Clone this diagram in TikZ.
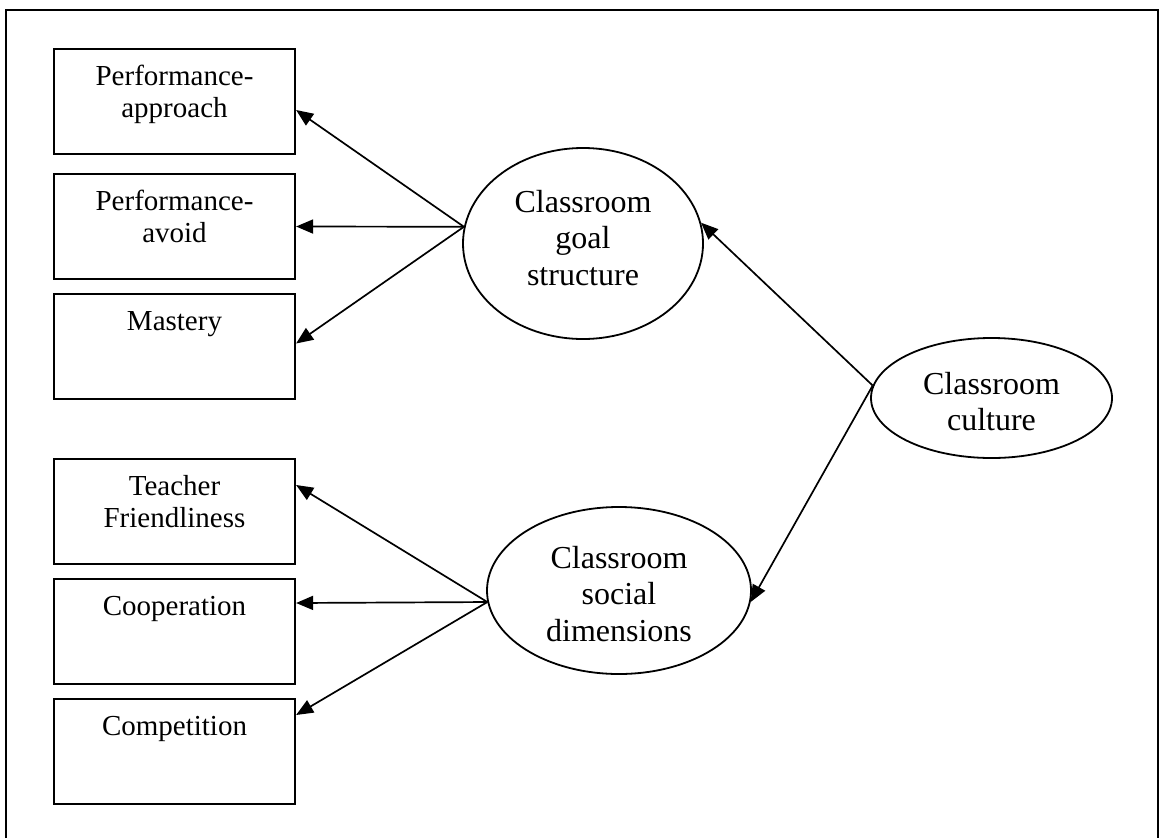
\documentclass[tikz,border=0pt]{standalone}
\usepackage{fontspec}
\setmainfont{Liberation Serif}
\usetikzlibrary{arrows.meta,shapes.geometric,calc}
\begin{document}
\begin{tikzpicture}[x=1pt,y=-1pt,
  frame/.style={line width=2pt},
  itembox/.style={draw, line width=2.2pt, rectangle, minimum width=241pt,
    minimum height=105pt, inner sep=0pt},
  itemtxt/.style={inner sep=0pt, anchor=base, font=\fontsize{29}{32}\selectfont},
  factor/.style={draw, line width=1.8pt, ellipse, inner sep=0pt},
  factortxt/.style={inner sep=0pt, anchor=base, font=\fontsize{32}{36.5}\selectfont},
  link/.style={line width=1.7pt, -{Triangle[length=17pt,width=14pt]}}
]
\useasboundingbox (0,0) rectangle (1161,838);
\fill[white] (0,0) rectangle (1161,838);

% outer frame (open at the bottom edge)
\draw[frame] (6,838) -- (6,10) -- (1158,10) -- (1158,838);

% indicator boxes
\node[itembox] (b1) at (174.5,101.5) {};
\node[itembox] (b2) at (174.5,226.5) {};
\node[itembox] (b3) at (174.5,346.5) {};
\node[itembox] (b4) at (174.5,511.5) {};
\node[itembox] (b5) at (174.5,631.5) {};
\node[itembox] (b6) at (174.5,751.5) {};

\node[itemtxt] (t1) at ($(b1.north)+(0,38)$) {\parbox[t]{230pt}{\centering Performance-\\approach}};
\node[itemtxt] (t2) at ($(b2.north)+(0,38)$) {\parbox[t]{230pt}{\centering Performance-\\avoid}};
\node[itemtxt] (t3) at ($(b3.north)+(0,38)$) {\parbox[t]{230pt}{\centering Mastery}};
\node[itemtxt] (t4) at ($(b4.north)+(0,38)$) {\parbox[t]{230pt}{\centering Teacher\\Friendliness}};
\node[itemtxt] (t5) at ($(b5.north)+(0,38)$) {\parbox[t]{230pt}{\centering Cooperation}};
\node[itemtxt] (t6) at ($(b6.north)+(0,38)$) {\parbox[t]{230pt}{\centering Competition}};

% latent factors
\node[factor, minimum width=240pt, minimum height=191pt] (g) at (583,243.5) {};
\node[factor, minimum width=264pt, minimum height=167pt] (s) at (619,590.5) {};
\node[factor, minimum width=241pt, minimum height=120pt] (c) at (991.5,398) {};

\node[factortxt] (gt) at ($(g.center)+(0,-31.5)$) {\parbox[t]{220pt}{\centering Classroom\\goal\\structure}};
\node[factortxt] (st) at ($(s.center)+(0,-22.5)$) {\parbox[t]{240pt}{\centering Classroom\\social\\dimensions}};
\node[factortxt] (ct) at ($(c.center)+(0,-4)$) {\parbox[t]{220pt}{\centering Classroom\\culture}};

% loadings
\draw[link] (g.172) -- ($(b1.east)+(0,8.5)$);
\draw[link] (g.172) -- (b2.east);
\draw[link] (g.172) -- ($(b3.east)+(0,-3)$);
\draw[link] (s.185) -- ($(b4.east)+(0,-26.5)$);
\draw[link] (s.185) -- ($(b5.east)+(0,-28.5)$);
\draw[link] (s.185) -- ($(b6.east)+(0,-36.5)$);
\draw[link] (c.174) -- (g.10);
\draw[link] (c.174) -- (s.355);
\end{tikzpicture}
\end{document}
